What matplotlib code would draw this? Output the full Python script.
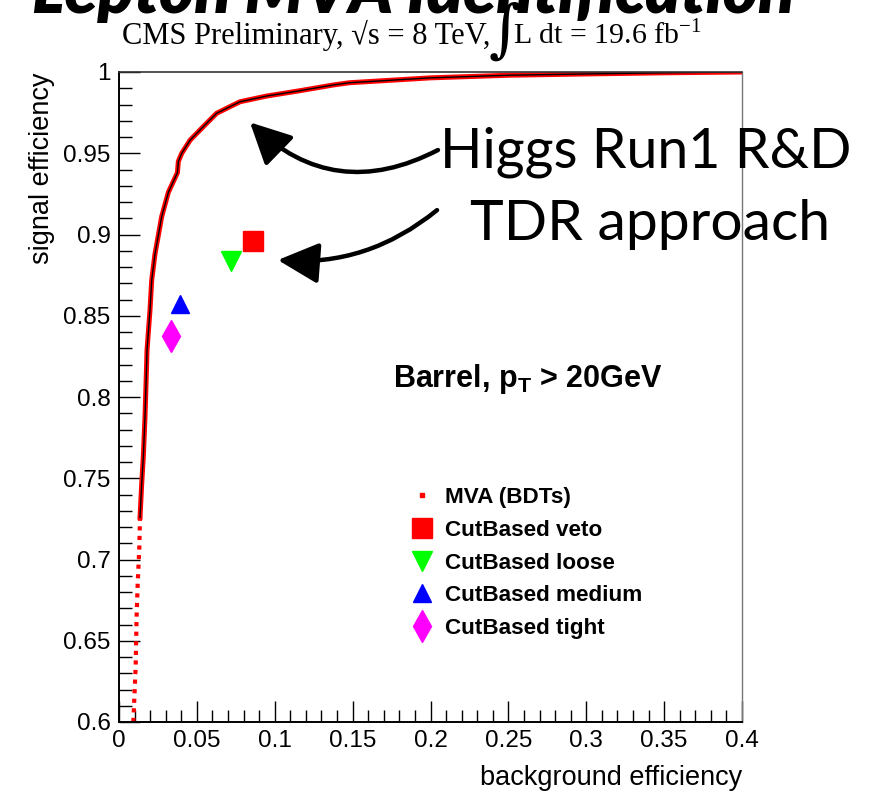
import matplotlib
matplotlib.use("Agg")
import matplotlib.pyplot as plt
from matplotlib.lines import Line2D

plt.rcParams.update({
    "font.family": ["Liberation Sans", "DejaVu Sans"],
    "mathtext.fontset": "custom",
    "mathtext.rm": "Liberation Serif",
    "mathtext.bf": "Liberation Sans:bold",
})

# ROC curve of the MVA (BDT) electron id
bkg_eff = [0.0092, 0.0107, 0.0113, 0.0120, 0.0130, 0.0135, 0.0146, 0.0156,
           0.0167, 0.0175, 0.0180, 0.0199, 0.0210, 0.0231, 0.0274, 0.0317,
           0.0375, 0.0381, 0.0403, 0.0456, 0.0520, 0.0584, 0.0627, 0.0713,
           0.0777, 0.0948, 0.1162, 0.1375, 0.148, 0.200, 0.250, 0.300,
           0.350, 0.400]
sig_eff = [0.600, 0.634, 0.665, 0.685, 0.706, 0.726, 0.747, 0.763,
           0.788, 0.8125, 0.829, 0.8535, 0.872, 0.888, 0.911, 0.926,
           0.938, 0.945, 0.950, 0.958, 0.9643, 0.9705, 0.9746, 0.9787,
           0.9817, 0.9852, 0.9885, 0.992, 0.9934, 0.9964, 0.998, 0.9988,
           0.9995, 1.000]
dotted_below = 0.726

# cut-based working points
wp_labels = ["CutBased veto", "CutBased loose", "CutBased medium", "CutBased tight"]
wp_bkg = [0.0862, 0.0719, 0.0393, 0.0334]
wp_sig = [0.896, 0.884, 0.857, 0.8375]
wp_style = [("s", "#ff0000", 14.5), ("v", "#00ff00", 14.5),
            ("^", "#0000ff", 13.5), ("d", "#ff00ff", 16)]

fig = plt.figure(figsize=(8.87, 7.91), dpi=100)
W, H = 887, 791
ax = fig.add_axes([119 / W, 1 - 722 / H, (742 - 119) / W, (722 - 72) / H])

# curve: dotted markers at low efficiency, dense solid band above
lo_x = [x for x, y in zip(bkg_eff, sig_eff) if y <= dotted_below]
lo_y = [y for y in sig_eff if y <= dotted_below]
hi_x = [x for x, y in zip(bkg_eff, sig_eff) if y >= dotted_below]
hi_y = [y for y in sig_eff if y >= dotted_below]
ax.plot(lo_x, lo_y, color="red", lw=3, ls=(0, (1, 1.3)), solid_capstyle="butt")
ax.plot(hi_x, hi_y, color="red", lw=3.6)
ax.plot(hi_x, hi_y, color="black", lw=1.0)

handles = [Line2D([], [], ls="none", marker="s", ms=3, color="red", label="MVA (BDTs)")]
for lab, x, y, (m, c, ms) in zip(wp_labels, wp_bkg, wp_sig, wp_style):
    h, = ax.plot([x], [y], ls="none", marker=m, ms=ms, color=c, mec=c,
                 label=lab, clip_on=False)
    handles.append(h)

ax.set_xlim(0, 0.4)
ax.set_ylim(0.6, 1.0)
ax.set_xticks([i * 0.05 for i in range(9)])
ax.set_xticklabels(["0", "0.05", "0.1", "0.15", "0.2", "0.25", "0.3", "0.35", "0.4"])
ax.set_yticks([0.6 + i * 0.05 for i in range(9)])
ax.set_yticklabels(["0.6", "0.65", "0.7", "0.75", "0.8", "0.85", "0.9", "0.95", "1"])
ax.set_xticks([i * 0.01 for i in range(41)], minor=True)
ax.set_yticks([0.6 + i * 0.01 for i in range(41)], minor=True)
ax.tick_params(which="both", direction="in", top=False, right=False, width=1.0)
ax.tick_params(which="major", length=15, labelsize=17.5)
ax.tick_params(which="minor", length=9)
ax.tick_params(axis="x", pad=6)
ax.tick_params(axis="y", pad=6)
for s in ("left", "bottom"):
    ax.spines[s].set_linewidth(1.4)
ax.spines["top"].set_linewidth(1.2)
ax.spines["top"].set_color("#333333")
ax.spines["right"].set_linewidth(1.0)
ax.spines["right"].set_color("#777777")

ax.set_xlabel("background efficiency", fontsize=19.5, loc="right")
ax.xaxis.set_label_coords(1.0, -0.066)
ax.set_ylabel("signal efficiency", fontsize=19.5, loc="top")
ax.yaxis.set_label_coords(-0.103, 1.0)

ax.text(0.44, 0.515, r"Barrel, $\mathbf{p_{T}}$ > 20GeV", transform=ax.transAxes,
        fontsize=22, fontweight="bold", ha="left", va="baseline")

ax.legend(handles=handles, loc="upper left", frameon=False,
          bbox_to_anchor=(400 / W, 1 - 476 / H), bbox_transform=fig.transFigure,
          prop={"family": "Liberation Sans", "weight": "bold", "size": 16.2},
          handlelength=1.0, handletextpad=0.5, labelspacing=0.52, borderpad=0)

# annotations
ax.annotate("", xy=(0.0841, 0.969), xytext=(0.2048, 0.952),
            arrowprops=dict(arrowstyle="-|>,head_length=0.9,head_width=0.45",
                            connectionstyle="arc3,rad=-0.36", lw=3.2, color="black",
                            mutation_scale=28, shrinkA=0, shrinkB=0))
ax.annotate("", xy=(0.102, 0.8843), xytext=(0.2042, 0.915),
            arrowprops=dict(arrowstyle="-|>,head_length=0.9,head_width=0.45",
                            connectionstyle="arc3,rad=-0.2", lw=3.2, color="black",
                            mutation_scale=28, shrinkA=0, shrinkB=0))
ax.text(0.206, 0.9415, "Higgs Run1 R&D", fontsize=40, family="Lato",
        ha="left", va="baseline", clip_on=False)
ax.text(0.2255, 0.8965, "TDR approach", fontsize=41, family="Lato",
        ha="left", va="baseline", clip_on=False)

# header
fig.text(413 / W, 1 - 13 / H, "Lepton MVA Identification", fontsize=48,
         family="Lato", fontweight="heavy", style="italic", ha="center", va="baseline")
fig.text(122 / W, 1 - 44 / H, "CMS Preliminary, \u221as = 8 TeV,", fontsize=22,
         family="Liberation Serif", ha="left", va="baseline")
fig.text(489 / W, 1 - 50 / H, "\u222b", fontsize=45, family="DejaVu Serif",
         ha="left", va="baseline")
fig.text(513 / W, 1 - 44 / H, r"L dt = 19.6 fb$^{-1}$", fontsize=21.5,
         family="Liberation Serif", ha="left", va="baseline")

fig.savefig("out.png", dpi=100)
